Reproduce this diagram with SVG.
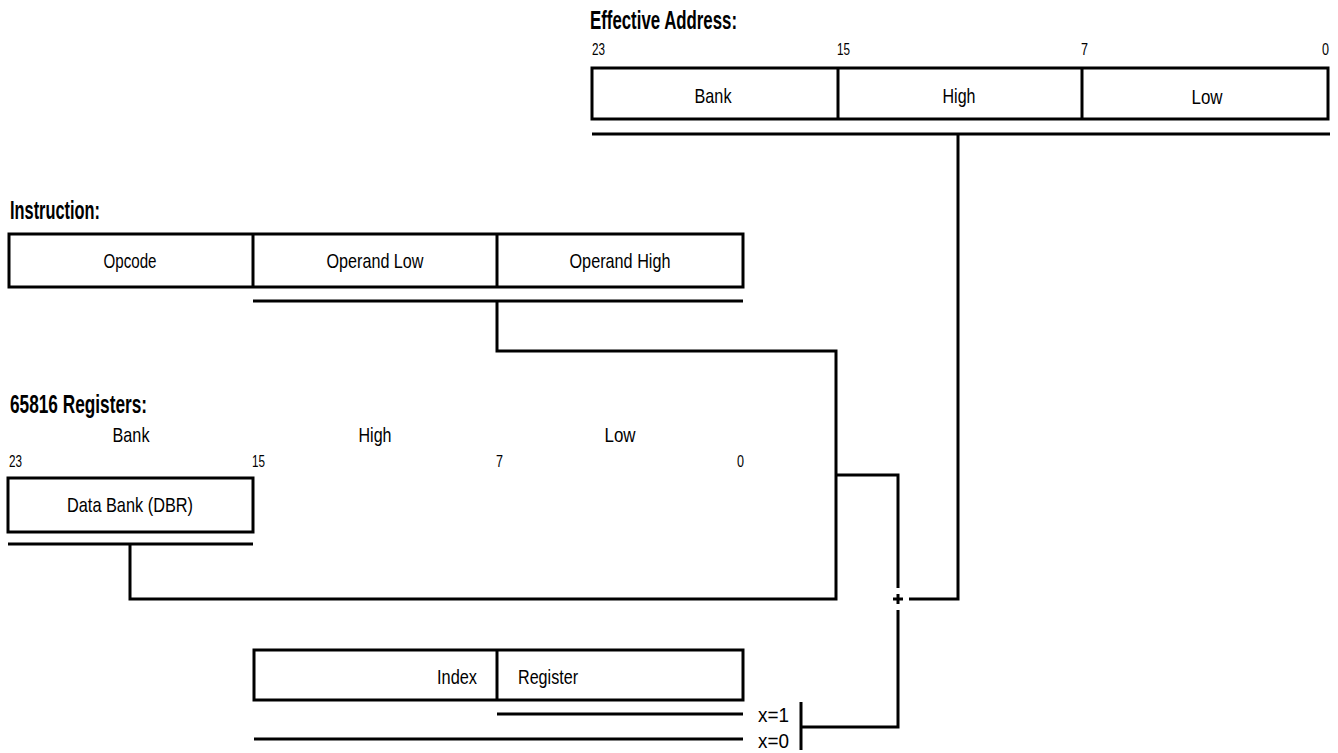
<svg xmlns="http://www.w3.org/2000/svg" width="1338" height="753" viewBox="0 0 1338 753">
<style>
text{font-family:"Liberation Sans",Arial,sans-serif;fill:#000}
.t{font-size:25px;font-weight:bold}
.l{font-size:21px}
.n{font-size:17px}
.c{text-anchor:middle}
.box{fill:#fff;stroke:#000;stroke-width:3}
.ln{fill:none;stroke:#000;stroke-width:3}
</style>
<rect width="1338" height="753" fill="#fff"/>
<g id="effective-address">
<text class="t" x="590" y="29" textLength="147" lengthAdjust="spacingAndGlyphs">Effective Address:</text>
<text class="n" x="592" y="55" textLength="13" lengthAdjust="spacingAndGlyphs">23</text>
<text class="n" x="837" y="55" textLength="13" lengthAdjust="spacingAndGlyphs">15</text>
<text class="n" x="1081" y="55" textLength="7" lengthAdjust="spacingAndGlyphs">7</text>
<text class="n" x="1322" y="55" textLength="7" lengthAdjust="spacingAndGlyphs">0</text>
<rect class="box" x="592" y="68" width="736" height="51"/>
<line class="ln" x1="838" y1="68" x2="838" y2="119"/>
<line class="ln" x1="1082" y1="68" x2="1082" y2="119"/>
<text class="l c" x="713" y="103" textLength="37" lengthAdjust="spacingAndGlyphs">Bank</text>
<text class="l c" x="959" y="103" textLength="33" lengthAdjust="spacingAndGlyphs">High</text>
<text class="l c" x="1207" y="104" textLength="31" lengthAdjust="spacingAndGlyphs">Low</text>
<line class="ln" x1="592" y1="134" x2="1330" y2="134"/>
</g>
<g id="instruction">
<text class="t" x="10" y="219" textLength="90" lengthAdjust="spacingAndGlyphs">Instruction:</text>
<rect class="box" x="9" y="234" width="734" height="53"/>
<line class="ln" x1="253" y1="234" x2="253" y2="287"/>
<line class="ln" x1="497" y1="234" x2="497" y2="287"/>
<text class="l c" x="130" y="268" textLength="53" lengthAdjust="spacingAndGlyphs">Opcode</text>
<text class="l c" x="375" y="268" textLength="97" lengthAdjust="spacingAndGlyphs">Operand Low</text>
<text class="l c" x="620" y="268" textLength="101" lengthAdjust="spacingAndGlyphs">Operand High</text>
<line class="ln" x1="253" y1="301" x2="743" y2="301"/>
</g>
<g id="registers">
<text class="t" x="10" y="413" textLength="137" lengthAdjust="spacingAndGlyphs">65816 Registers:</text>
<text class="l c" x="131" y="442" textLength="37" lengthAdjust="spacingAndGlyphs">Bank</text>
<text class="l c" x="375" y="442" textLength="33" lengthAdjust="spacingAndGlyphs">High</text>
<text class="l c" x="620" y="442" textLength="31" lengthAdjust="spacingAndGlyphs">Low</text>
<text class="n" x="9" y="467" textLength="13" lengthAdjust="spacingAndGlyphs">23</text>
<text class="n" x="252" y="467" textLength="13" lengthAdjust="spacingAndGlyphs">15</text>
<text class="n" x="496" y="467" textLength="7" lengthAdjust="spacingAndGlyphs">7</text>
<text class="n" x="737" y="467" textLength="7" lengthAdjust="spacingAndGlyphs">0</text>
<rect class="box" x="8" y="478" width="245" height="54"/>
<text class="l c" x="130" y="512" textLength="126" lengthAdjust="spacingAndGlyphs">Data Bank (DBR)</text>
<line class="ln" x1="8" y1="544" x2="253" y2="544"/>
</g>
<g id="index-register">
<rect class="box" x="254" y="650" width="489" height="50"/>
<line class="ln" x1="497" y1="650" x2="497" y2="700"/>
<text class="l" x="437" y="684" textLength="40" lengthAdjust="spacingAndGlyphs">Index</text>
<text class="l" x="518" y="684" textLength="60" lengthAdjust="spacingAndGlyphs">Register</text>
<line class="ln" x1="497" y1="714" x2="743" y2="714"/>
<line class="ln" x1="254" y1="739" x2="743" y2="739"/>
<text class="l" x="758" y="722" textLength="31" lengthAdjust="spacingAndGlyphs">x=1</text>
<text class="l" x="758" y="748" textLength="31" lengthAdjust="spacingAndGlyphs">x=0</text>
</g>
<g id="adder">
<line class="ln" x1="893" y1="599" x2="903" y2="599" stroke-width="1.5"/>
<line class="ln" x1="898" y1="594" x2="898" y2="604" stroke-width="1.5"/>
</g>
<g id="connectors">
<polyline class="ln" points="958,134 958,599 909,599"/>
<polyline class="ln" points="497,301 497,351 836,351 836,599 130,599 130,544"/>
<polyline class="ln" points="836,475 898,475 898,588"/>
<polyline class="ln" points="898,610 898,727 801,727"/>
<line class="ln" x1="801" y1="702" x2="801" y2="750"/>
</g>
</svg>
